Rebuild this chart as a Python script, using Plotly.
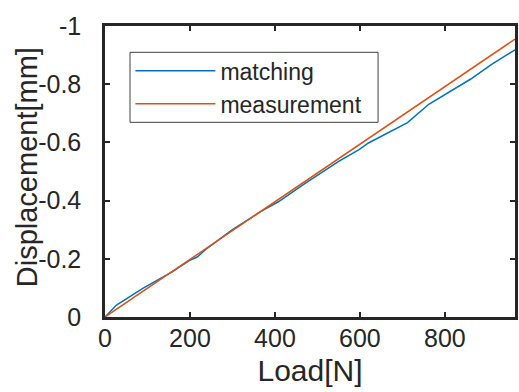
import plotly.graph_objects as go

# Data
match_x = [0, 27, 90, 159, 201, 217, 241, 300, 366, 408, 471, 549, 598, 620, 712, 762, 860, 910, 965]
match_y = [0, -0.041, -0.099, -0.156, -0.196, -0.206, -0.237, -0.300, -0.362, -0.396, -0.459,
           -0.534, -0.575, -0.598, -0.668, -0.731, -0.817, -0.868, -0.918]
meas_x = [0, 965]
meas_y = [0, -0.955]

x_tickvals = [0, 200, 400, 600, 800]
x_ticktext = ["0", "200", "400", "600", "800"]
y_tickvals = [0, -0.2, -0.4, -0.6, -0.8, -1]
y_ticktext = ["0", "-0.2", "-0.4", "-0.6", "-0.8", "-1"]
x_title = "Load[N]"
y_title = "Displacement[mm]"

AX = "#262626"
FONT = "Liberation Sans, Arial, sans-serif"

fig = go.Figure()
fig.add_trace(go.Scatter(x=match_x, y=match_y, mode="lines", name="matching",
                         line=dict(color="#0072BD", width=1.5)))
fig.add_trace(go.Scatter(x=meas_x, y=meas_y, mode="lines", name="measurement",
                         line=dict(color="#D95319", width=1.5)))

axis_common = dict(showline=True, linewidth=2.5, linecolor=AX, mirror="ticks",
                   ticks="inside", ticklen=5, tickwidth=2, tickcolor=AX,
                   showgrid=False, zeroline=False,
                   tickfont=dict(family=FONT, size=25, color=AX))

fig.update_xaxes(range=[0, 965], tickvals=x_tickvals, ticktext=x_ticktext,
                 title=dict(text=x_title, font=dict(family=FONT, size=30, color=AX), standoff=10),
                 ticklabelstandoff=-3, **axis_common)
fig.update_yaxes(range=[0, -1], tickvals=y_tickvals, ticktext=y_ticktext,
                 ticklabelstandoff=16, **axis_common)

# y-axis title as rotated text
fig.add_annotation(text=y_title, xref="paper", yref="paper", x=-0.19, y=0.515,
                   xanchor="center", yanchor="middle", textangle=-90, showarrow=False,
                   font=dict(family=FONT, size=29, color=AX))

# legend frame (style only)
fig.add_shape(type="rect", xref="paper", yref="paper",
              x0=0.061, x1=0.666, y0=0.669, y1=0.9096,
              line=dict(color="#404040", width=1), fillcolor="white", layer="above")

fig.update_layout(
    width=519, height=392,
    margin=dict(l=105, r=1, t=26, b=75),
    plot_bgcolor="white", paper_bgcolor="white",
    font=dict(family=FONT, color=AX),
    legend=dict(x=0.062, y=0.92, xanchor="left", yanchor="top",
                bgcolor="rgba(0,0,0,0)", borderwidth=0,
                font=dict(family=FONT, size=23, color=AX),
                itemwidth=80, tracegroupgap=0),
)

fig.write_html("out.html")
